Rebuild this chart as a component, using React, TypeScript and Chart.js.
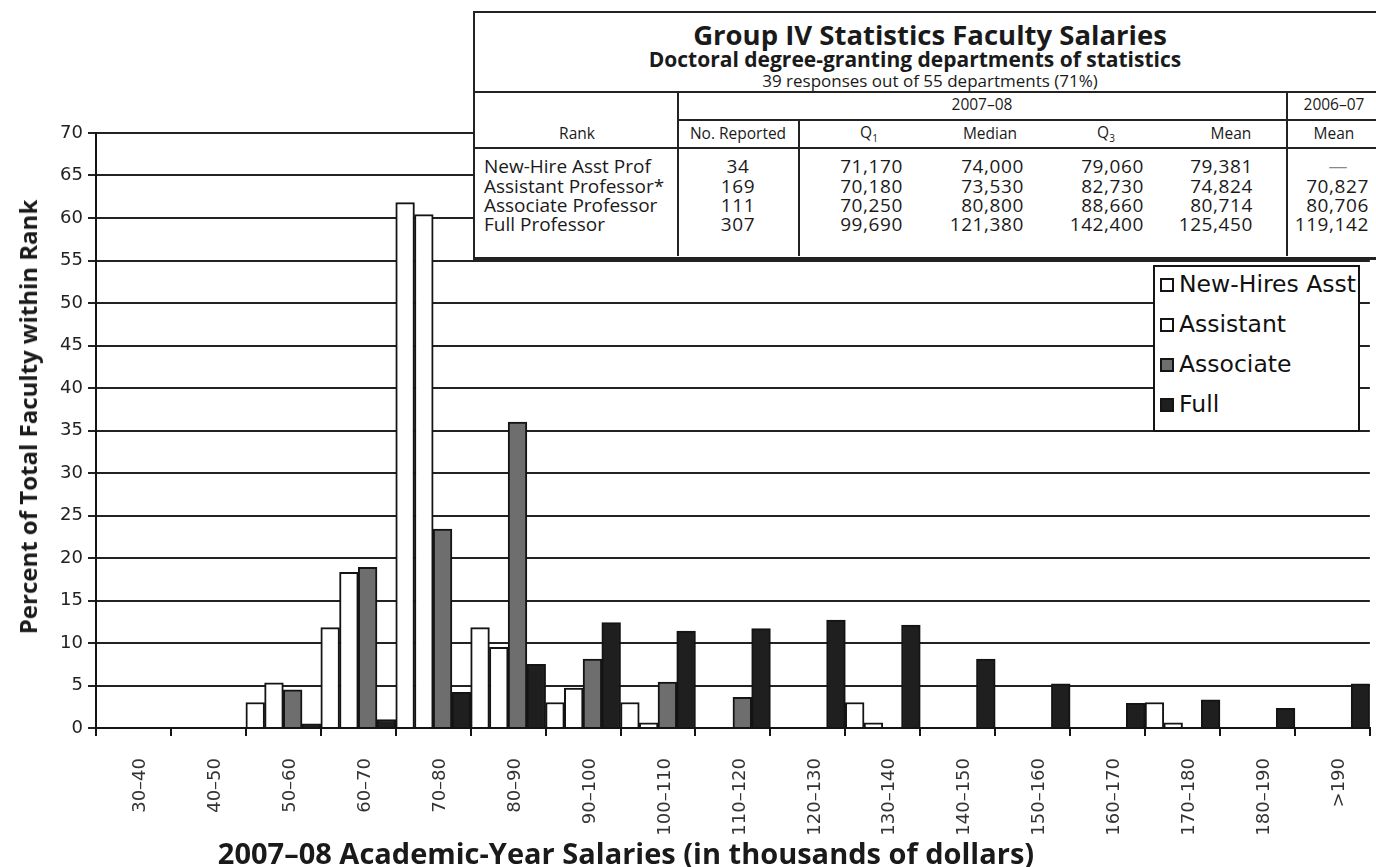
import React, { useEffect, useRef } from 'react';
import { Chart, registerables } from 'chart.js';

Chart.register(...registerables);

// ---------- data ----------
const categories = ['30–40', '40–50', '50–60', '60–70', '70–80', '80–90', '90–100', '100–110', '110–120', '120–130', '130–140', '140–150', '150–160', '160–170', '170–180', '180–190', '>190'];
const newHiresAsst = [0, 0, 3.0, 11.8, 61.8, 11.8, 3.0, 3.0, 0, 0, 3.0, 0, 0, 0, 3.0, 0, 0];
const assistant = [0, 0, 5.3, 18.3, 60.4, 9.5, 4.7, 0.6, 0, 0, 0.6, 0, 0, 0, 0.6, 0, 0];
const associate = [0, 0, 4.5, 18.9, 23.4, 36.0, 8.1, 5.4, 3.6, 0, 0, 0, 0, 0, 0, 0, 0];
const full = [0, 0, 0.5, 1.0, 4.2, 7.5, 12.4, 11.4, 11.7, 12.7, 12.1, 8.1, 5.2, 2.9, 3.3, 2.3, 5.2];

const seriesNames = ['New-Hires Asst', 'Assistant', 'Associate', 'Full'];
const seriesValues = [newHiresAsst, assistant, associate, full];
const seriesColors = ['#ffffff', '#ffffff', '#6e6e6e', '#1f1f1f'];

const yTitle = 'Percent of Total Faculty within Rank';
const xTitle = '2007–08 Academic-Year Salaries (in thousands of dollars)';

const tableTitle = 'Group IV Statistics Faculty Salaries';
const tableSubtitle = 'Doctoral degree-granting departments of statistics';
const tableNote = '39 responses out of 55 departments (71%)';
const tableRanks = ['New-Hire Asst Prof', 'Assistant Professor*', 'Associate Professor', 'Full Professor'];
const tableReported = ['34', '169', '111', '307'];
const tableQ1 = ['71,170', '70,180', '70,250', '99,690'];
const tableMedian = ['74,000', '73,530', '80,800', '121,380'];
const tableQ3 = ['79,060', '82,730', '88,660', '142,400'];
const tableMean = ['79,381', '74,824', '80,714', '125,450'];
const tableMeanPrev = ['—', '70,827', '80,706', '119,142'];

// ---------- helpers ----------
const TF = '"Open Sans", sans-serif';

type TP = {
  x: number; y: number; align?: 'left' | 'center' | 'right'; size: number; weight?: number;
  family?: string; ls?: number; color?: string; children: React.ReactNode;
};
function T({ x, y, align = 'left', size, weight = 400, family = TF, ls = 0, color = '#1a1a1a', children }: TP) {
  const tx = align === 'left' ? '0' : align === 'center' ? '-50%' : '-100%';
  return (
    <span
      style={{
        position: 'absolute', left: x, top: y, transform: `translate(${tx}, -50%)`,
        whiteSpace: 'nowrap', lineHeight: 1, fontFamily: family, letterSpacing: ls,
        fontSize: size, fontWeight: weight, color,
      }}
    >
      {children}
    </span>
  );
}

function Line({ x, y, w, h }: { x: number; y: number; w: number; h: number }) {
  return <div style={{ position: 'absolute', left: x, top: y, width: w, height: h, background: '#222' }} />;
}

export default function App() {
  const ref = useRef<HTMLCanvasElement>(null);

  useEffect(() => {
    const chart = new Chart(ref.current as HTMLCanvasElement, {
      type: 'bar',
      data: {
        labels: categories,
        datasets: seriesValues.map((d, i) => ({
          label: seriesNames[i],
          data: d,
          backgroundColor: seriesColors[i],
          borderColor: '#141414',
          borderWidth: 2,
          barPercentage: 1,
          categoryPercentage: 1,
        })),
      },
      options: {
        animation: false,
        responsive: false,
        maintainAspectRatio: false,
        layout: { padding: { top: 133, left: 0, right: 0, bottom: 0 } },
        plugins: { legend: { display: false }, tooltip: { enabled: false }, title: { display: false } },
        scales: {
          x: {
            grid: { drawOnChartArea: false, drawTicks: true, tickLength: 8, color: '#141414', lineWidth: 2, offset: true },
            border: { display: true, color: '#141414', width: 2 },
            ticks: {
              minRotation: 90, maxRotation: 90, autoSkip: false, padding: 22, labelOffset: 7,
              font: { family: '"DejaVu Sans", sans-serif', size: 18 }, color: '#333',
            },
            afterFit: (s: any) => { s.height = 139; },
          },
          y: {
            min: 0, max: 70,
            ticks: { stepSize: 5, padding: 5, font: { family: '"DejaVu Sans", sans-serif', size: 18 }, color: '#222' },
            grid: { color: '#222', lineWidth: 2, tickLength: 8 },
            border: { display: true, color: '#141414', width: 2 },
            afterFit: (s: any) => { s.width = 96; },
          },
        },
      },
    } as any);
    return () => chart.destroy();
  }, []);

  const rowY = [166, 186, 205, 224];
  const rs = 19;
  const nls = 0.6;

  return (
    <div style={{ position: 'fixed', left: 0, top: 0, width: 1376, height: 867, overflow: 'hidden', background: '#fff' }}>
      <canvas ref={ref} width={1376} height={867} style={{ position: 'absolute', left: 0, top: 0, width: 1376, height: 867 }} />

      {/* axis titles */}
      <div style={{ position: 'absolute', left: 28, top: 417, transform: 'translate(-50%, -50%) rotate(-90deg)', whiteSpace: 'nowrap', fontFamily: TF, fontWeight: 700, fontSize: 24, color: '#1a1a1a', lineHeight: 1 }}>
        {yTitle}
      </div>
      <T x={626} y={852} align="center" size={29} weight={700}>{xTitle}</T>

      {/* legend */}
      <div style={{ position: 'absolute', left: 1153, top: 265, width: 203, height: 163, border: '2px solid #141414', background: '#fff' }} />
      {seriesNames.map((n, i) => (
        <React.Fragment key={n}>
          <div style={{ position: 'absolute', left: 1160, top: 278 + i * 40, width: 10, height: 10, border: '2px solid #141414', background: seriesColors[i] }} />
          <T x={1179} y={285 + i * 40} size={23.5} family='"DejaVu Sans", sans-serif' color="#111">{n}</T>
        </React.Fragment>
      ))}

      {/* table */}
      <div style={{ position: 'absolute', left: 473, top: 11, width: 920, height: 244, border: '2px solid #222', background: '#fff' }} />
      <Line x={473} y={258} w={920} h={1.5} />
      <Line x={473} y={91} w={920} h={2} />
      <Line x={678} y={119} w={715} h={1.5} />
      <Line x={473} y={147} w={920} h={2} />
      <Line x={677} y={92} w={2} h={164} />
      <Line x={798} y={120} w={1.5} h={136} />
      <Line x={1286} y={92} w={2} h={164} />

      <T x={930} y={35} align="center" size={27.5} weight={700}>{tableTitle}</T>
      <T x={915} y={59} align="center" size={21} weight={700}>{tableSubtitle}</T>
      <T x={930} y={80} align="center" size={17}>{tableNote}</T>
      <T x={982} y={105} align="center" size={15.5}>2007–08</T>
      <T x={1334} y={105} align="center" size={15.5}>2006–07</T>

      <T x={577} y={134} align="center" size={15.5}>Rank</T>
      <T x={738} y={134} align="center" size={15.5}>No. Reported</T>
      <T x={869} y={134} align="center" size={15.5}>Q<sub style={{ fontSize: 10 }}>1</sub></T>
      <T x={990} y={134} align="center" size={15.5}>Median</T>
      <T x={1106} y={134} align="center" size={15.5}>Q<sub style={{ fontSize: 10 }}>3</sub></T>
      <T x={1231} y={134} align="center" size={15.5}>Mean</T>
      <T x={1334} y={134} align="center" size={15.5}>Mean</T>

      {tableRanks.map((r, i) => (
        <React.Fragment key={r}>
          <T x={484} y={rowY[i]} size={rs}>{r}</T>
          <T x={738} y={rowY[i]} align="center" size={rs} ls={nls}>{tableReported[i]}</T>
          <T x={903} y={rowY[i]} align="right" size={rs} ls={nls}>{tableQ1[i]}</T>
          <T x={1024} y={rowY[i]} align="right" size={rs} ls={nls}>{tableMedian[i]}</T>
          <T x={1144} y={rowY[i]} align="right" size={rs} ls={nls}>{tableQ3[i]}</T>
          <T x={1253} y={rowY[i]} align="right" size={rs} ls={nls}>{tableMean[i]}</T>
          {i === 0
            ? <T x={1338} y={rowY[i]} align="center" size={rs} color="#888">{tableMeanPrev[i]}</T>
            : <T x={1369} y={rowY[i]} align="right" size={rs} ls={nls}>{tableMeanPrev[i]}</T>}
        </React.Fragment>
      ))}
    </div>
  );
}
